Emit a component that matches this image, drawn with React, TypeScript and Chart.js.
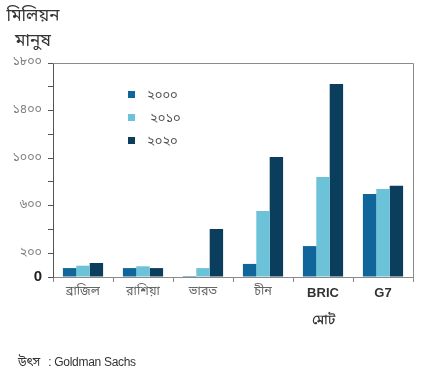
import React, { useEffect, useRef } from "react";
import { Chart, registerables } from "chart.js";

Chart.register(...registerables);

const categories: (string | string[])[] = ["ব্রাজিল", "রাশিয়া", "ভারত", "চীন", ["BRIC", "মোট"], "G7"];
const seriesLabels = ["২০০০", "২০১০", "২০২০"];
const values2000 = [75, 75, 8, 110, 260, 698];
const values2010 = [95, 90, 75, 555, 841, 740];
const values2020 = [118, 75, 404, 1010, 1623, 768];
const seriesColors = ["#10669a", "#6cc3d9", "#0b3d5c"];
const yTickLabels: Record<number, string> = {
  0: "0",
  200: "২০০",
  600: "৬০০",
  1000: "১০০০",
  1400: "১৪০০",
  1800: "১৮০০",
};
const yTitle = ["মিলিয়ন", "মানুষ"];
const sourceLabel = "উৎস";
const sourceText = ": Goldman Sachs";

const BN = "'Noto Sans Bengali', 'Lohit Bengali', 'FreeSans', 'Noto Sans', sans-serif";
const LAT = "'Liberation Sans', Arial, sans-serif";

const framePlugin = {
  id: "framePlugin",
  afterDraw(chart: any) {
    const { ctx, chartArea } = chart;
    ctx.save();
    ctx.strokeStyle = "#8a8a8a";
    ctx.lineWidth = 1;
    ctx.beginPath();
    ctx.moveTo(chartArea.left, chartArea.top + 0.5);
    ctx.lineTo(chartArea.right + 0.5, chartArea.top + 0.5);
    ctx.lineTo(chartArea.right + 0.5, chartArea.bottom);
    ctx.stroke();
    // legend inside the plot area
    const ds = chart.data.datasets;
    const x0 = 128;
    const ys = [95, 118, 141];
    ds.forEach((d: any, i: number) => {
      ctx.fillStyle = d.backgroundColor;
      ctx.fillRect(x0, ys[i] - 4, 7, 7);
      ctx.fillStyle = "#555";
      ctx.font = `13px ${BN}`;
      ctx.textBaseline = "middle";
      ctx.textAlign = "left";
      ctx.fillText(d.label, x0 + 19 + (i === 1 ? 3 : 0), ys[i] + 1);
    });
    ctx.restore();
  },
};

export default function App() {
  const ref = useRef<HTMLCanvasElement>(null);
  useEffect(() => {
    if (!ref.current) return;
    const chart = new Chart(ref.current, {
      type: "bar",
      data: {
        labels: categories as any,
        datasets: [values2000, values2010, values2020].map((v, i) => ({
          label: seriesLabels[i],
          data: v,
          backgroundColor: seriesColors[i],
          borderWidth: 0,
          barPercentage: 1,
          categoryPercentage: 0.67,
        })),
      },
      options: {
        animation: false,
        responsive: false,
        maintainAspectRatio: false,
        layout: { padding: { top: 63, right: 19, left: 0, bottom: 0 } },
        plugins: { legend: { display: false }, tooltip: { enabled: false } },
        scales: {
          x: {
            afterFit: (s: any) => {
              s.height = 109;
            },
            border: { display: true, color: "#8a8a8a", width: 1 },
            grid: {
              offset: true,
              drawOnChartArea: false,
              drawTicks: true,
              tickLength: 5,
              color: "#8a8a8a",
            },
            ticks: {
              padding: -2,
              maxRotation: 0,
              autoSkip: false,
              color: (c: any) => (c.index >= 4 ? "#333" : "#666"),
              font: (c: any) =>
                c.index >= 4
                  ? { family: LAT, size: 13, weight: "bold", lineHeight: 2.05 }
                  : { family: BN, size: 12.5, lineHeight: 2.05 },
            },
          },
          y: {
            min: 0,
            max: 1800,
            afterFit: (s: any) => {
              s.width = 53;
            },
            border: { display: true, color: "#555", width: 1 },
            grid: {
              drawOnChartArea: false,
              drawTicks: true,
              tickLength: 5,
              color: "#555",
            },
            ticks: {
              stepSize: 200,
              padding: 6,
              autoSkip: false,
              callback: (v: any) => yTickLabels[v as number] ?? "",
              color: (c: any) => (c.tick && c.tick.value === 0 ? "#222" : "#808080"),
              font: (c: any) =>
                c.tick && c.tick.value === 0
                  ? { family: LAT, size: 15, weight: "bold" }
                  : { family: BN, size: 12.5 },
            },
          },
        },
      },
      plugins: [framePlugin],
    });
    return () => chart.destroy();
  }, []);

  return (
    <div style={{ position: "fixed", left: 0, top: 0, width: 432, height: 386, background: "#fff" }}>
      <canvas ref={ref} width={432} height={386} style={{ position: "absolute", left: 0, top: 0 }} />
      <div
        style={{
          position: "absolute",
          left: 0,
          top: 4,
          width: 66,
          textAlign: "center",
          fontFamily: BN,
          fontSize: 17,
          lineHeight: "25px",
          color: "#333",
        }}
      >
        <div>{yTitle[0]}</div>
        <div>{yTitle[1]}</div>
      </div>
      <div
        style={{
          position: "absolute",
          left: 18,
          top: 355,
          fontSize: 12,
          color: "#333",
          whiteSpace: "nowrap",
        }}
      >
        <span style={{ fontFamily: BN }}>{sourceLabel}</span>
        <span style={{ fontFamily: LAT, marginLeft: 8, letterSpacing: -0.3 }}>{sourceText}</span>
      </div>
    </div>
  );
}
